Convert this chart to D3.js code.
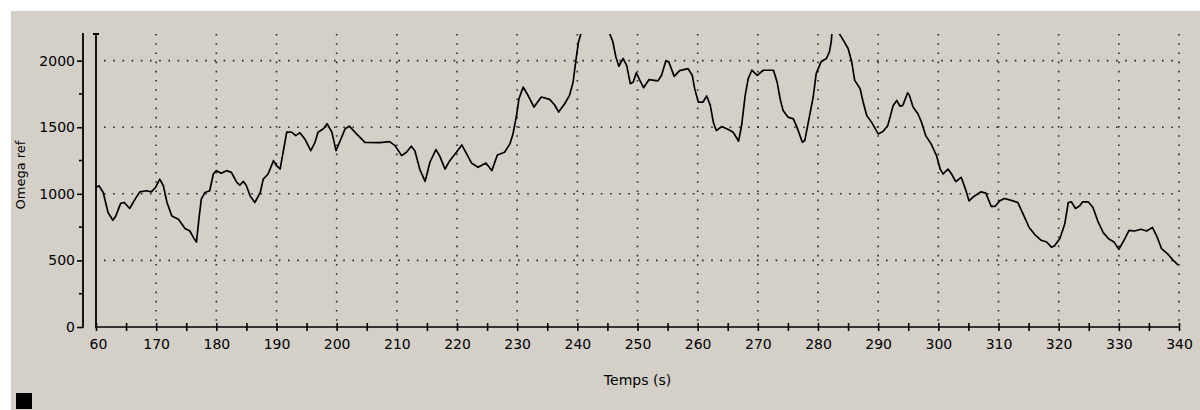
<!DOCTYPE html>
<html>
<head>
<meta charset="utf-8">
<script src="https://cdn.jsdelivr.net/npm/d3@7"></script>
<style>
  body { margin: 0; background: #fff; }
  svg { display: block; }
  text { font-family: "DejaVu Sans", sans-serif; fill: #000; }
</style>
</head>
<body>
<svg id="chart" width="1200" height="410"></svg>
<script>
// time (s) and omega ref
var temps = [160.0,160.5,161.2,162.0,162.8,163.3,164.1,164.7,165.6,166.5,167.3,168.4,169.2,169.9,170.6,171.2,171.8,172.6,173.7,174.8,175.6,176.2,176.7,177.1,177.5,178.1,178.9,179.5,180.0,180.8,181.7,182.5,183.4,183.9,184.5,185.0,185.6,186.4,187.3,187.8,188.6,189.5,190.0,190.6,191.1,191.7,192.5,193.2,193.9,194.7,195.7,196.4,196.9,197.8,198.4,199.2,199.9,200.6,201.4,202.1,203.3,204.7,207.2,208.8,209.7,210.8,211.6,212.4,213.0,213.8,214.7,215.5,216.5,217.1,218.0,218.8,219.9,220.8,221.6,222.4,223.5,224.8,225.8,226.7,227.9,228.8,229.3,229.9,230.3,231.0,231.8,232.8,234.0,235.4,236.2,236.9,237.9,238.7,239.3,239.8,240.2,240.6,241.5,243.0,244.5,245.3,245.9,246.4,246.9,247.6,248.2,248.8,249.3,249.8,250.4,251.0,251.9,253.4,254.0,254.7,255.2,256.1,257.0,258.4,259.1,259.5,260.1,260.9,261.5,262.1,262.6,263.1,264.0,265.1,265.9,266.8,267.3,267.9,268.4,269.0,269.9,270.9,272.6,273.2,273.7,274.2,275.0,275.9,276.5,277.4,277.8,278.5,279.2,279.7,280.5,281.4,281.9,282.2,282.3,282.9,283.5,284.2,285.0,285.6,286.1,287.0,287.5,288.1,288.9,290.0,290.8,291.6,292.5,293.1,293.6,294.1,294.9,295.2,295.8,296.6,297.2,297.9,298.8,299.7,300.3,300.8,301.6,302.2,302.9,303.8,304.6,305.1,305.9,307.1,307.9,308.8,309.4,310.2,311.0,312.4,313.2,314.1,315.1,316.0,317.1,318.0,318.8,319.3,320.2,321.0,321.6,322.1,322.8,323.5,324.0,324.9,325.7,326.5,327.4,328.4,329.2,330.0,330.7,331.7,332.6,333.7,334.6,335.6,336.3,337.1,338.2,339.0,339.9];
var omega = [1048,1060,1010,860,802,834,928,935,890,960,1015,1023,1015,1048,1110,1060,935,834,809,739,721,671,638,809,960,1010,1023,1149,1174,1154,1174,1161,1086,1066,1093,1060,985,935,1010,1110,1149,1249,1211,1186,1312,1463,1463,1437,1458,1412,1324,1387,1463,1488,1526,1463,1324,1400,1488,1508,1450,1387,1385,1392,1362,1287,1312,1357,1324,1186,1093,1237,1332,1287,1186,1249,1312,1367,1300,1232,1199,1232,1174,1292,1312,1375,1450,1588,1714,1802,1739,1651,1727,1709,1669,1614,1676,1739,1840,2016,2142,2204,2350,2450,2320,2212,2142,2029,1958,2016,1965,1827,1840,1908,1852,1797,1857,1848,1890,1998,1991,1882,1925,1940,1890,1790,1689,1689,1735,1664,1538,1475,1505,1483,1463,1395,1513,1739,1865,1928,1890,1928,1928,1840,1714,1626,1576,1563,1501,1387,1400,1563,1727,1903,1991,2016,2066,2142,2200,2260,2205,2154,2091,1991,1852,1790,1689,1588,1538,1450,1468,1513,1664,1701,1659,1664,1759,1739,1651,1601,1538,1437,1375,1287,1186,1149,1186,1149,1091,1124,1023,947,980,1015,1005,905,905,947,965,947,935,847,747,696,651,638,600,608,664,771,935,940,890,910,940,940,897,796,709,658,638,583,638,726,721,734,721,747,683,588,545,502,465];

var xTicks = [160,170,180,190,200,210,220,230,240,250,260,270,280,290,300,310,320,330,340];
var xTickLabels = ["60","170","180","190","200","210","220","230","240","250","260","270","280","290","300","310","320","330","340"];
var yTicks = [0,500,1000,1500,2000];
var yMinor = [250,750,1250,1750];

var svg = d3.select("#chart"),
    margin = {top: 34, right: 21, bottom: 83, left: 96},
    width = +svg.attr("width") - margin.left - margin.right,
    height = +svg.attr("height") - margin.top - margin.bottom;

var x = d3.scaleLinear().domain([160, 340]).range([margin.left, margin.left + width]),
    y = d3.scaleLinear().domain([0, 2200]).range([margin.top + height, margin.top]);

// grey panel like the old windows control
svg.append("rect")
    .attr("x", 11).attr("y", 11)
    .attr("width", 1189).attr("height", 399)
    .attr("fill", "#d4d0c8");

svg.append("defs").append("clipPath").attr("id", "plot")
  .append("rect")
    .attr("x", margin.left).attr("y", margin.top)
    .attr("width", width).attr("height", height);

// dotted grid
var grid = svg.append("g")
    .attr("stroke", "#2a2a2a")
    .attr("stroke-width", 1.6)
    .attr("stroke-dasharray", "1.6,7.6");

grid.selectAll(".hgrid")
  .data(yTicks.slice(1))
  .enter().append("line")
    .attr("x1", x(160) + 8).attr("x2", x(340))
    .attr("y1", function(d) { return y(d); })
    .attr("y2", function(d) { return y(d); });

grid.selectAll(".vgrid")
  .data(xTicks.slice(1))
  .enter().append("line")
    .attr("x1", function(d) { return x(d); })
    .attr("x2", function(d) { return x(d); })
    .attr("y1", y(2200)).attr("y2", y(0));

// y axis sits a bit left of the plot
var yAxisX = 83;
var yAxis = svg.append("g")
    .attr("transform", "translate(" + yAxisX + ",0)")
    .call(d3.axisLeft(y).tickValues(yTicks).tickFormat(d3.format("d")).tickSize(6).tickPadding(3));
yAxis.select(".domain").remove();
yAxis.selectAll(".tick line").attr("stroke-width", 1.6);
yAxis.selectAll("text").style("font-size", "14px").attr("x", -8);

svg.append("line")
    .attr("x1", yAxisX).attr("x2", yAxisX)
    .attr("y1", y(2200) - 1).attr("y2", y(0) + 0.8)
    .attr("stroke", "#000").attr("stroke-width", 1.8);

svg.append("g")
  .selectAll("line")
  .data(yMinor)
  .enter().append("line")
    .attr("x1", yAxisX - 4).attr("x2", yAxisX)
    .attr("y1", function(d) { return y(d); })
    .attr("y2", function(d) { return y(d); })
    .attr("stroke", "#000").attr("stroke-width", 1.6);

// x axis, ticks every 5 s crossing the line
var xAxis = svg.append("g")
    .attr("transform", "translate(0," + y(0) + ")")
    .call(d3.axisBottom(x).tickValues(d3.range(160, 341, 5)).tickSize(0)
      .tickFormat(function(d) {
        var i = xTicks.indexOf(d);
        return i < 0 ? "" : xTickLabels[i];
      }));
xAxis.select(".domain").attr("d", "M" + (x(160) - 1) + ",0H" + x(340)).attr("stroke-width", 1.6);
xAxis.selectAll(".tick line").attr("y1", -4).attr("y2", 4).attr("stroke-width", 1.6);
xAxis.selectAll(".tick text").style("font-size", "14px").attr("y", 0).attr("dy", "1.6em");
xAxis.selectAll(".tick").filter(function(d) { return d === 160; }).select("text").attr("dx", 2);

// start marker
svg.append("path")
    .attr("d", "M" + x(160) + "," + y(0) + "V" + y(2200) + "M" + (x(160) - 3) + "," + y(2200) + "H" + (x(160) + 3))
    .attr("stroke", "#000").attr("stroke-width", 1.8).attr("fill", "none");

// the signal
var line = d3.line()
    .x(function(d, i) { return x(temps[i]); })
    .y(function(d) { return y(d); });

svg.append("path")
    .datum(omega)
    .attr("clip-path", "url(#plot)")
    .attr("d", line)
    .attr("fill", "none")
    .attr("stroke", "#000")
    .attr("stroke-width", 1.7)
    .attr("stroke-linejoin", "round");

// labels
svg.append("text")
    .attr("x", (x(160) + x(340)) / 2)
    .attr("y", 385)
    .attr("text-anchor", "middle")
    .style("font-size", "14px")
    .text("Temps (s)");

svg.append("text")
    .attr("transform", "translate(25,175) rotate(-90)")
    .attr("text-anchor", "middle")
    .style("font-size", "13px")
    .text("Omega ref");

svg.append("rect")
    .attr("x", 16).attr("y", 393)
    .attr("width", 16).attr("height", 16)
    .attr("fill", "#000");
</script>
</body>
</html>
